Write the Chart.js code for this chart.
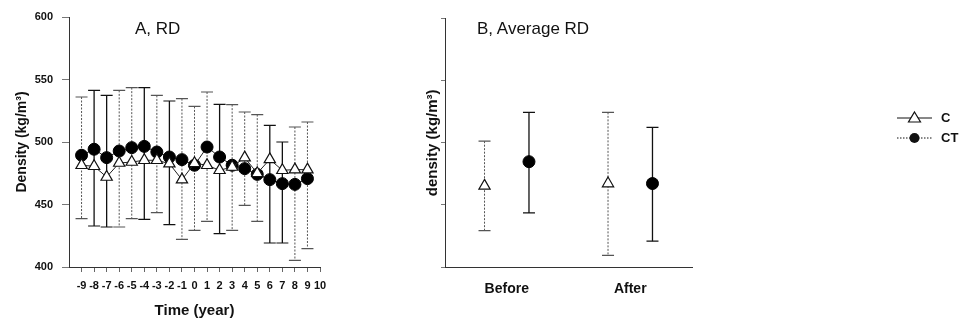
<!DOCTYPE html>
<html>
<head>
<meta charset="utf-8">
<script src="https://cdn.jsdelivr.net/npm/chart.js@4"></script>
<style>
  body { margin: 0; background: #fff; width: 965px; height: 324px; position: relative; overflow: hidden; font-family: "Liberation Sans", Arial, sans-serif; }
  .wrap { position: absolute; top: 0; height: 324px; }
  #wrapA { left: 0; width: 340px; }
  #wrapB { left: 400px; width: 565px; }
  .ttl { position: absolute; font-size: 17px; line-height: 1; color: #111; }
</style>
</head>
<body>
<div class="wrap" id="wrapA"><canvas id="chartA"></canvas></div>
<div class="wrap" id="wrapB"><canvas id="chartB"></canvas></div>
<div class="ttl" style="left:135px;top:20px;">A, RD</div>
<div class="ttl" style="left:477px;top:20px;">B, Average RD</div>
<script>
// ---- Panel A data ----
var years = [-9, -8, -7, -6, -5, -4, -3, -2, -1, 0, 1, 2, 3, 4, 5, 6, 7, 8, 9];
var cMean = [481.4, 480.6, 472, 483.2, 484, 485.4, 485.4, 482.7, 469.9, 483, 481.4, 477.4, 480, 487.5, 475, 486.1, 477.4, 477.9, 477.9];
var ctMean = [489.4, 494.2, 487.5, 492.8, 495.5, 496.5, 492, 488, 485.9, 481.4, 496, 488, 481.4, 478.7, 474.1, 469.9, 466.7, 466.1, 470.7];
// error bar ends (null = bar hidden behind the other series)
var cHigh = [536, null, null, 541.3, 543.5, null, 537.3, null, 534.7, 528.5, 540, null, 529.9, 524, 521.9, null, null, 512, 516];
var cLow = [438.7, null, null, 432, 438.7, null, 443.5, null, 422.1, 429.3, 436.5, null, 429.3, 449.3, 436.5, null, null, 405.3, 414.7];
var ctHigh = [null, 541.3, 537.3, null, null, 543.5, null, 532.8, null, null, null, 530.1, null, null, null, 513.3, 500, null, null];
var ctLow = [null, 432.8, 432, null, null, 438.1, null, 433.9, null, null, null, 426.7, null, null, null, 419.2, 419.2, null, null];
var yTicks = [400, 450, 500, 550, 600];

// ---- Panel B data ----
var groups = ['Before', 'After'];
var groupPos = [0.5, 1.5];
var bCMean = [465.3, 467.2];
var bCHigh = [501.3, 524.5];
var bCLow = [429.3, 409.3];
var bCTMean = [484.8, 467.2];
var bCTHigh = [524.5, 512.5];
var bCTLow = [443.5, 420.8];

var FONT = '"Liberation Sans", Arial, sans-serif';

function pts(xs, ys, off) {
  return xs.map(function(x, i) { return { x: x + (off || 0), y: ys[i] }; });
}

// ── error bar plugin: reads dataset.errHigh / errLow ──
var errorBars = {
  id: 'errorBars',
  beforeDatasetsDraw: function(chart) {
    var ctx = chart.ctx;
    var xs = chart.scales.x, ys = chart.scales.y;
    chart.data.datasets.forEach(function(ds) {
      if (!ds.errHigh) return;
      ds.data.forEach(function(p, i) {
        var hi = ds.errHigh[i], lo = ds.errLow[i];
        if (hi == null) return;
        var px = xs.getPixelForValue(p.x);
        var y1 = ys.getPixelForValue(hi), y2 = ys.getPixelForValue(lo);
        ctx.save();
        ctx.strokeStyle = ds.errColor;
        ctx.lineWidth = ds.errWidth;
        ctx.setLineDash(ds.errDash);
        ctx.beginPath();
        ctx.moveTo(px, y1); ctx.lineTo(px, y2);
        ctx.stroke();
        ctx.setLineDash([]);
        ctx.lineWidth = 1.2;
        ctx.beginPath();
        ctx.moveTo(px - 6, y1); ctx.lineTo(px + 6, y1);
        ctx.moveTo(px - 6, y2); ctx.lineTo(px + 6, y2);
        ctx.stroke();
        ctx.restore();
      });
    });
  }
};

// ── legend on the right of panel B ──
var sideLegend = {
  id: 'sideLegend',
  afterDraw: function(chart) {
    var ctx = chart.ctx;
    ctx.save();
    ctx.strokeStyle = '#111';
    ctx.fillStyle = '#111';
    ctx.lineWidth = 1;
    // C
    ctx.beginPath(); ctx.moveTo(497, 118); ctx.lineTo(532, 118); ctx.stroke();
    ctx.beginPath();
    ctx.moveTo(514.5, 112); ctx.lineTo(520.5, 122); ctx.lineTo(508.5, 122); ctx.closePath();
    ctx.fillStyle = '#fff'; ctx.fill(); ctx.lineWidth = 1.2; ctx.stroke();
    // CT
    ctx.lineWidth = 1;
    ctx.setLineDash([1.5, 1.5]);
    ctx.beginPath(); ctx.moveTo(497, 138); ctx.lineTo(532, 138); ctx.stroke();
    ctx.setLineDash([]);
    ctx.fillStyle = '#111';
    ctx.beginPath(); ctx.arc(514.5, 138, 5, 0, Math.PI * 2); ctx.fill();
    ctx.font = 'bold 13px ' + FONT;
    ctx.textBaseline = 'middle';
    ctx.fillText('C', 541, 118);
    ctx.fillText('CT', 541, 138);
    ctx.restore();
  }
};

var cStyle = {
  pointStyle: 'triangle', pointRadius: 6.5, pointBackgroundColor: '#fff',
  pointBorderColor: '#111', pointBorderWidth: 1.2, borderColor: '#222', borderWidth: 1,
  errColor: '#555', errWidth: 1, errDash: [2, 1.5]
};
var ctStyle = {
  pointStyle: 'circle', pointRadius: 6, pointBackgroundColor: '#000',
  pointBorderColor: '#000', pointBorderWidth: 1, borderColor: '#222', borderWidth: 1,
  errColor: '#111', errWidth: 1.3, errDash: []
};

function ds(label, data, style, hi, lo, showLine) {
  var o = { label: label, data: data, errHigh: hi, errLow: lo, showLine: showLine };
  Object.keys(style).forEach(function(k) { o[k] = style[k]; });
  return o;
}

var yScaleBase = function(showLabels, titleSize, titlePad, width) {
  return {
    min: 400, max: 600,
    afterBuildTicks: function(s) { s.ticks = yTicks.map(function(v) { return { value: v }; }); },
    afterFit: function(s) { s.width = width; },
    border: { color: '#333', width: 1, dash: showLabels ? [2, 1] : [] },
    grid: { display: true, drawOnChartArea: false, tickLength: showLabels ? 7 : 4, color: '#777' },
    ticks: {
      display: true, padding: showLabels ? 9 : 12, color: '#111',
      font: { family: FONT, size: 11, weight: 'bold' },
      callback: function(v) { return showLabels ? v : ''; }
    },
    title: {
      display: true, text: (showLabels ? 'Density' : 'density') + ' (kg/m\u00b3)', color: '#111',
      font: { family: FONT, size: titleSize, weight: 'bold' }, padding: { top: titlePad, bottom: 0 }
    }
  };
};

new Chart(document.getElementById('chartA'), {
  type: 'scatter',
  data: {
    datasets: [
      ds('C', pts(years, cMean), cStyle, cHigh, cLow, true),
      ds('CT', pts(years, ctMean), ctStyle, ctHigh, ctLow, true)
    ]
  },
  options: {
    responsive: true, maintainAspectRatio: false, animation: false,
    layout: { padding: { left: 0, right: 20, top: 17, bottom: 0 } },
    plugins: { legend: { display: false }, tooltip: { enabled: false } },
    scales: {
      x: {
        type: 'linear', min: -10, max: 10,
        afterBuildTicks: function(s) { s.ticks = years.concat([10]).map(function(v) { return { value: v }; }); },
        afterFit: function(s) { s.height = 57; },
        border: { color: '#333', width: 1, dash: [2, 1] },
        grid: { display: true, drawOnChartArea: false, tickLength: 5, color: '#666' },
        ticks: {
          autoSkip: false, maxRotation: 0, padding: 7, color: '#111',
          font: { family: FONT, size: 11, weight: 'bold' }
        },
        title: {
          display: true, text: 'Time (year)', color: '#111',
          font: { family: FONT, size: 15, weight: 'bold' }, padding: { top: 0, bottom: 4 }
        }
      },
      y: yScaleBase(true, 14, 14, 69)
    }
  },
  plugins: [errorBars]
});

new Chart(document.getElementById('chartB'), {
  type: 'scatter',
  data: {
    datasets: [
      ds('C', pts(groupPos, bCMean, -0.18), cStyle, bCHigh, bCLow, false),
      ds('CT', pts(groupPos, bCTMean, 0.18), ctStyle, bCTHigh, bCTLow, false)
    ]
  },
  options: {
    responsive: true, maintainAspectRatio: false, animation: false,
    layout: { padding: { left: 0, right: 273, top: 17, bottom: 0 } },
    plugins: { legend: { display: false }, tooltip: { enabled: false } },
    scales: {
      x: {
        type: 'linear', min: 0, max: 2,
        afterBuildTicks: function(s) { s.ticks = groupPos.map(function(v) { return { value: v }; }); },
        afterFit: function(s) { s.height = 57; },
        border: { color: '#333', width: 1, dash: [2, 1] },
        grid: { display: false },
        ticks: {
          autoSkip: false, maxRotation: 0, padding: 6, color: '#111',
          font: { family: FONT, size: 14, weight: 'bold' },
          callback: function(v, i) { return groups[i]; }
        }
      },
      y: yScaleBase(false, 15, 24, 45)
    }
  },
  plugins: [errorBars, sideLegend]
});
</script>
</body>
</html>
